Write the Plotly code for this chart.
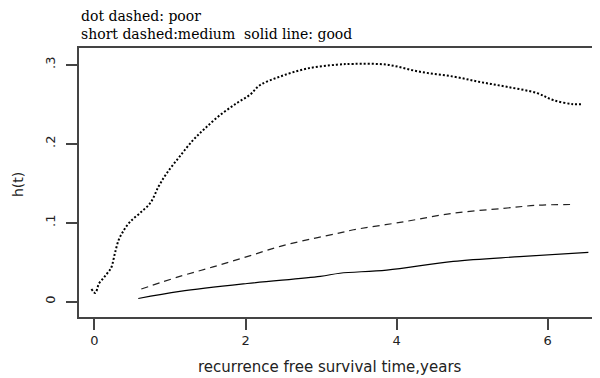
import plotly.graph_objects as go

# Data
poor_t = [-0.04, 0.01, 0.06, 0.12, 0.17, 0.21, 0.23, 0.27, 0.32, 0.38, 0.47, 0.60, 0.74, 0.85, 0.96,
          1.13, 1.31, 1.46, 1.66, 1.88, 2.06, 2.19, 2.46, 2.81, 3.21, 3.43, 3.87, 4.31, 4.75,
          5.11, 5.46, 5.86, 6.08, 6.34, 6.47]
poor_h = [0.016, 0.011, 0.023, 0.030, 0.036, 0.041, 0.045, 0.061, 0.078, 0.089, 0.101, 0.112, 0.125, 0.146, 0.163,
          0.184, 0.205, 0.219, 0.236, 0.251, 0.262, 0.274, 0.285, 0.295, 0.300, 0.301, 0.300, 0.291, 0.285,
          0.278, 0.272, 0.264, 0.255, 0.250, 0.250]

medium_t = [0.62, 1.13, 1.57, 2.02, 2.46, 2.90, 3.25, 3.43, 4.09, 4.75, 5.41, 5.86, 6.36]
medium_h = [0.016, 0.032, 0.044, 0.057, 0.070, 0.080, 0.087, 0.091, 0.101, 0.112, 0.118, 0.122, 0.123]

good_t = [0.58, 1.13, 2.02, 2.99, 3.25, 3.87, 4.75, 5.63, 6.54]
good_h = [0.004, 0.013, 0.023, 0.032, 0.036, 0.040, 0.051, 0.057, 0.0625]

x_ticks = [0, 2, 4, 6]
y_ticks = [0, 0.1, 0.2, 0.3]
y_tick_labels = ["0", ".1", ".2", ".3"]

fig = go.Figure()
fig.add_trace(go.Scatter(x=poor_t, y=poor_h, mode="lines",
                         line=dict(color="black", width=2, dash="2px,2px"), line_shape="spline"))
fig.add_trace(go.Scatter(x=medium_t, y=medium_h, mode="lines",
                         line=dict(color="#222222", width=1.2, dash="7px,5px"), line_shape="spline"))
fig.add_trace(go.Scatter(x=good_t, y=good_h, mode="lines",
                         line=dict(color="black", width=1.2), line_shape="spline"))

fig.update_layout(
    width=600, height=378,
    margin=dict(l=71, r=0, t=40, b=69),
    paper_bgcolor="white", plot_bgcolor="white",
    showlegend=False,
    font=dict(family="DejaVu Sans, Verdana, sans-serif", color="#222222", size=13),
    xaxis=dict(range=[-0.205, 6.80], tickvals=x_ticks, ticktext=[str(v) for v in x_ticks],
               showgrid=False, zeroline=False, showline=True, mirror=True,
               linecolor="#444444", linewidth=1.5, ticks="outside", ticklen=11,
               tickcolor="#444444", tickwidth=1.5, ticklabelstandoff=0),
    yaxis=dict(range=[-0.0194, 0.3211], tickvals=y_ticks, ticktext=y_tick_labels,
               tickangle=-90,
               showgrid=False, zeroline=False, showline=True, mirror=False,
               linecolor="#444444", linewidth=1.5, ticks="outside", ticklen=11,
               tickcolor="#444444", tickwidth=1.5, ticklabelstandoff=6),
    annotations=[
        dict(text="dot dashed: poor<br>short dashed:medium  solid line: good",
             xref="paper", yref="paper", x=0, y=1, xshift=0, yshift=4,
             xanchor="left", yanchor="bottom", align="left", showarrow=False,
             font=dict(family="DejaVu Serif, serif", size=14, color="black")),
        dict(text="recurrence free survival time,years", xref="paper", yref="paper",
             x=0.4754, y=0, yshift=-50, xanchor="center", yanchor="middle",
             showarrow=False, font=dict(size=15)),
        dict(text="h(t)", xref="paper", yref="paper", x=0, y=0.4907, xshift=-61,
             xanchor="center", yanchor="middle", textangle=-90, showarrow=False,
             font=dict(size=14)),
    ],
)

fig.write_html("out.html")
